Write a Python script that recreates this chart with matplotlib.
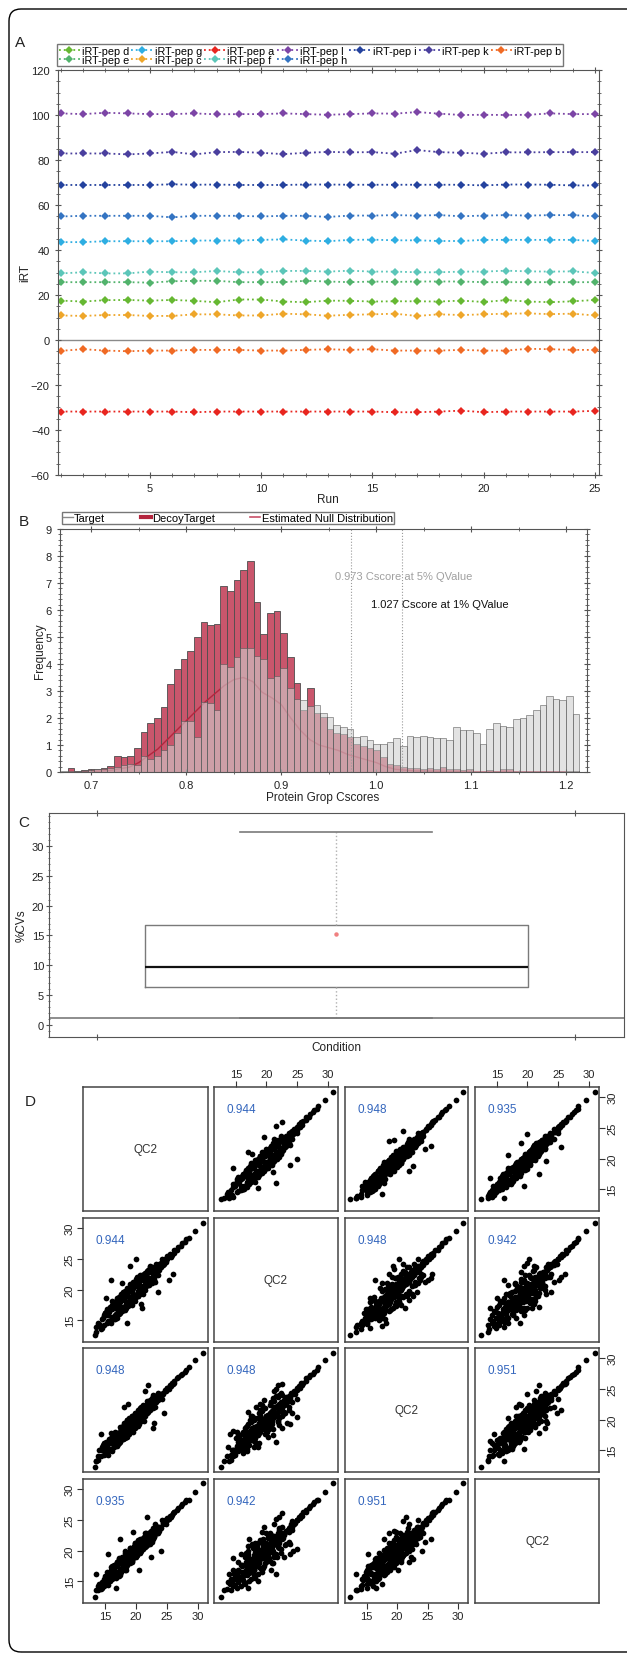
import numpy as np
import matplotlib
matplotlib.use("Agg")
import matplotlib.pyplot as plt
from matplotlib.patches import FancyBboxPatch
from matplotlib.lines import Line2D
from matplotlib.ticker import MultipleLocator

plt.rcParams['font.family'] = ['Liberation Sans', 'DejaVu Sans']

# ---------------- Panel A data ----------------
runs = list(range(1, 26))
pep_d = [17.5,17.1,17.7,17.8,17.5,17.8,17.4,16.8,18.0,18.0,17.1,16.8,17.5,17.4,17.1,17.2,17.2,17.1,17.5,16.9,17.7,17.1,16.8,17.2,17.8]
pep_e = [25.7,25.7,25.7,25.7,25.5,26.1,26.3,26.3,25.7,25.7,25.7,26.3,26.0,25.7,26.0,25.8,26.0,26.0,26.0,25.7,25.7,25.7,25.7,25.7,25.7]
pep_g = [43.5,43.5,43.9,43.9,43.9,43.9,44.2,44.2,44.2,44.5,44.7,44.2,43.9,44.5,44.6,44.3,44.3,44.0,44.0,44.5,44.5,44.5,44.5,44.5,44.0]
pep_c = [10.9,10.7,11.1,11.1,10.7,10.7,11.4,11.4,10.9,10.9,11.7,11.4,10.8,11.2,11.4,11.7,10.7,11.4,11.1,11.4,11.7,11.8,11.5,11.7,10.9]
pep_a = [-31.8,-31.8,-31.8,-31.8,-31.8,-31.8,-32.1,-31.8,-31.8,-31.8,-31.8,-31.8,-31.8,-31.8,-31.8,-32.1,-32.1,-31.8,-31.4,-32.1,-31.8,-31.8,-31.8,-31.8,-31.5]
pep_f = [29.6,30.1,29.6,29.6,30.4,30.1,30.1,30.7,30.1,30.1,30.7,30.7,30.4,30.8,30.4,30.4,30.1,30.1,30.4,30.4,30.8,30.5,30.4,30.5,29.8]
pep_l = [100.7,100.4,101.0,100.7,100.4,100.4,100.7,100.3,100.4,100.4,100.7,100.4,100.1,100.4,100.7,100.6,101.3,100.6,100.0,100.1,100.0,100.1,100.7,100.4,100.4]
pep_h = [54.9,55.2,55.2,55.2,55.2,54.5,55.2,55.2,55.2,54.9,55.2,55.2,54.7,55.3,55.3,55.5,55.3,55.5,55.0,55.3,55.5,55.3,55.5,55.5,55.0]
pep_i = [68.9,68.9,68.9,68.9,68.9,69.2,69.0,69.1,68.9,68.9,68.9,69.1,69.1,69.0,69.0,69.0,69.0,69.0,69.0,68.7,69.1,69.1,69.0,68.7,68.7]
pep_k = [82.9,82.9,82.9,82.5,82.9,83.6,82.5,83.5,83.6,83.2,82.6,83.2,83.6,83.4,83.5,82.8,84.4,83.5,83.2,82.8,83.4,83.4,83.5,83.5,83.5]
pep_b = [-4.8,-4.1,-4.7,-5.0,-4.7,-4.7,-4.4,-4.4,-4.4,-4.7,-4.7,-4.4,-4.1,-4.4,-4.1,-4.7,-4.7,-4.7,-4.4,-4.7,-4.7,-3.9,-4.1,-4.4,-4.4]
pep_labels = ['iRT-pep d', 'iRT-pep e', 'iRT-pep g', 'iRT-pep c', 'iRT-pep a', 'iRT-pep f',
              'iRT-pep l', 'iRT-pep h', 'iRT-pep i', 'iRT-pep k', 'iRT-pep b']
pep_values = [pep_d, pep_e, pep_g, pep_c, pep_a, pep_f, pep_l, pep_h, pep_i, pep_k, pep_b]
pep_colors = ['#66b832', '#52b36c', '#2eaee2', '#eea62a', '#e8251f', '#5cc6b9',
              '#7c45a6', '#3474c2', '#24429e', '#4a3f9e', '#f06a24']

# ---------------- Panel B data ----------------
bin_start, bin_width, n_bins = 0.668, 0.007, 78
decoy_freq = [0.0, 0.15, 0.03, 0.06, 0.10, 0.12, 0.15, 0.22, 0.60, 0.57,
              0.60, 0.90, 1.50, 1.80, 2.00, 2.40, 3.25, 3.80, 4.20, 4.50,
              5.00, 5.55, 5.45, 5.50, 6.90, 6.70, 7.10, 7.50, 7.80, 6.30,
              5.10, 5.90, 5.95, 5.15, 4.25, 3.30, 2.30, 3.10, 2.20, 2.05,
              1.60, 1.45, 1.40, 1.30, 1.05, 0.95, 0.90, 0.80, 0.55, 0.30,
              0.25, 0.20, 0.15, 0.15, 0.10, 0.15, 0.10, 0.20, 0.12, 0.10,
              0.08, 0.10, 0.05, 0.05, 0.08, 0.05, 0.10, 0.12, 0.05, 0.05,
              0.05, 0.03, 0.03, 0.03, 0.03, 0.03, 0.03, 0.03]
target_freq = [0.03, 0.05, 0.05, 0.05, 0.08, 0.10, 0.10, 0.15, 0.20, 0.25,
               0.30, 0.25, 0.60, 0.50, 0.60, 0.80, 1.00, 1.45, 1.90, 1.90,
               1.30, 2.60, 2.55, 2.30, 4.00, 3.90, 4.25, 4.60, 4.60, 4.30,
               4.20, 3.50, 3.55, 3.85, 3.10, 2.70, 2.65, 2.45, 2.50, 2.20,
               2.05, 1.75, 1.65, 1.60, 1.30, 1.35, 1.20, 1.05, 1.05, 1.10,
               1.25, 0.95, 1.35, 1.30, 1.35, 1.30, 1.25, 1.25, 1.20, 1.65,
               1.55, 1.55, 1.45, 1.05, 1.60, 1.80, 1.70, 1.65, 1.95, 2.00,
               2.10, 2.30, 2.50, 2.80, 2.70, 2.65, 2.80, 2.15]
null_x = [0.70, 0.72, 0.74, 0.75, 0.76, 0.77, 0.78, 0.79, 0.80, 0.81, 0.82, 0.83, 0.84, 0.85,
          0.86, 0.87, 0.88, 0.89, 0.90, 0.91, 0.92, 0.93, 0.94, 0.95, 0.96, 0.97, 0.98, 0.99,
          1.00, 1.01, 1.02, 1.04, 1.08, 1.12, 1.20]
null_y = [0.02, 0.06, 0.18, 0.35, 0.60, 0.85, 1.20, 1.55, 1.90, 2.25, 2.60, 2.90, 3.20, 3.42,
          3.50, 3.35, 2.95, 2.75, 2.50, 2.00, 1.55, 1.20, 1.00, 0.90, 0.80, 0.65, 0.55, 0.45,
          0.35, 0.20, 0.10, 0.04, 0.02, 0.01, 0.0]
cut_5pct, cut_1pct = 0.973, 1.027

# ---------------- Panel C data ----------------
cv_q1, cv_median, cv_q3 = 6.3, 9.7, 16.7
cv_whislo, cv_whishi, cv_mean = 1.1, 32.3, 15.2

# ---------------- Panel D data ----------------
qc_names = ['QC2', 'QC2', 'QC2', 'QC2']
corr = [[None, 0.944, 0.948, 0.935],
        [0.944, None, 0.948, 0.942],
        [0.948, 0.948, None, 0.951],
        [0.935, 0.942, 0.951, None]]
qc1 = [13.4,13.6,13.9,14.3,13.8,14.0,14.9,15.5,14.5,15.3,
       14.7,15.8,15.0,16.2,15.1,16.4,15.5,16.8,15.6,16.5,
       17.2,15.9,16.2,17.4,16.3,17.0,16.4,17.8,16.7,17.5,
       16.9,18.2,17.1,17.9,18.4,17.3,18.6,17.6,18.5,17.8,
       18.9,18.0,19.2,18.2,19.4,18.6,19.3,18.7,19.8,18.9,
       19.6,19.1,20.1,19.4,20.3,19.5,20.4,19.8,20.6,20.0,
       20.8,20.2,21.0,20.4,21.2,20.5,21.4,20.7,21.6,20.9,
       21.8,21.1,22.0,21.3,22.2,21.5,22.4,21.7,22.7,22.1,
       23.0,22.5,23.4,22.9,23.7,23.4,24.1,23.8,24.4,24.3,
       24.8,24.7,25.1,25.1,25.6,25.5,25.9,26.1,26.2,26.7,
       26.8,27.3,27.5,27.9,28.1,28.5,29.6,30.8,
       16.0,21.0,23.5,18.0,22.8,20.5,15.5,24.0,19.0,17.5,25.3,14.3,20.0,22.0,
       18.5,16.8,21.8,23.0,19.6,15.2,24.5,17.8,26.0,13.6,21.5,20.8,18.8,22.5,
       17.0,18.2,19.5,20.4,16.5,21.3,22.1,18.8,15.9,19.9,17.6,20.9,23.0,16.2,18.4,
       21.7,19.2,17.9,20.2,22.6,15.3,18.9,20.7,17.3,21.0,19.7,16.8,23.4,18.0,20.0,
       15.8,16.4,17.1,17.7,18.3,18.7,19.4,19.9,20.3,20.8,21.4,21.9,22.3,22.9,16.1,
       17.4,18.1,19.0,19.6,20.6,21.2,15.0,14.6,23.6,24.2,16.9,17.9,18.6,20.1,21.6,
       19.3,18.0,20.9,22.7,16.6,17.8,19.8,21.1,15.6,23.2,18.4,20.5,22.0,17.5,19.1,
       21.8,16.3,18.9,20.4,22.4,
       16.2,17.0,18.5,19.3,20.2,21.1,15.4,16.7,17.6,18.2,19.0,19.8,20.7,21.5,22.2,
       23.1,14.8,15.9,17.3,18.8,19.6,20.4,21.8,22.6,16.0,17.9,18.3,19.5,20.0,21.3,
       22.8,15.1,16.9,18.0,19.1,20.6,21.9,17.2,18.6,20.3]
qc2 = [12.6,13.0,14.2,13.6,14.6,14.4,14.2,14.9,15.2,14.6,
       15.4,14.8,16.1,15.4,15.9,15.2,16.6,15.7,16.3,17.1,
       16.0,16.8,15.6,16.9,17.5,16.2,17.3,16.6,17.9,16.8,
       17.6,17.0,18.3,17.2,17.5,18.1,17.4,18.7,17.7,18.9,
       18.1,18.8,18.3,19.3,18.5,19.1,18.4,19.6,18.9,19.7,
       19.0,20.0,19.3,19.9,19.5,20.2,19.7,20.5,19.9,20.7,
       20.1,20.9,20.3,21.1,20.6,21.3,20.8,21.5,20.9,21.7,
       21.1,21.9,21.3,22.1,21.5,22.3,21.7,22.5,22.0,22.9,
       22.3,23.2,22.8,23.5,23.2,23.9,23.6,24.2,24.0,24.6,
       24.5,25.0,24.9,25.4,25.3,25.8,25.7,26.0,26.4,26.5,
       27.0,27.1,27.6,27.7,28.2,28.4,29.5,30.9,
       21.6,17.0,19.6,18.3,22.5,20.8,15.8,24.3,23.8,17.2,21.5,14.0,25.0,21.8,
       14.6,17.0,22.1,23.3,19.2,18.6,24.2,21.0,22.6,13.9,21.2,17.6,19.0,22.8,
       18.6,16.8,21.0,19.0,17.9,22.6,20.8,20.1,15.0,18.6,19.1,21.9,21.8,17.5,17.0,
       20.5,20.6,16.7,21.5,23.7,16.5,18.1,19.4,18.2,22.3,18.5,16.0,22.6,19.4,20.9,
       17.2,15.3,18.4,16.5,19.8,17.4,20.7,18.7,21.8,19.6,22.7,20.7,23.6,21.5,16.9,
       16.2,19.2,17.8,20.4,19.3,22.1,16.1,13.8,22.4,25.0,18.0,17.1,18.0,21.2,20.8,
       19.9,16.9,21.6,22.0,15.8,18.9,19.0,20.2,14.7,24.1,17.9,20.0,23.1,17.9,18.3,
       21.3,17.4,20.0,19.5,21.9,
       18.1,15.4,20.3,17.5,22.0,19.2,16.8,15.2,19.3,16.6,20.9,18.2,22.4,19.9,23.9,
       21.3,15.9,14.6,18.8,17.3,21.2,18.9,23.0,21.1,17.0,19.6,17.0,18.6,21.7,20.3,
       22.0,16.4,16.0,18.8,19.9,19.8,22.8,17.9,19.1,20.6]
qc3 = [12.3,13.3,13.4,14.1,14.0,15.0,14.3,14.2,15.0,14.4,
       15.9,15.1,15.3,14.8,16.3,15.7,15.4,16.2,16.9,15.8,
       16.5,16.1,17.0,16.3,16.6,17.6,16.8,17.2,16.5,18.0,
       17.1,17.8,17.4,16.9,18.1,17.6,18.3,17.8,18.6,18.0,
       17.7,19.1,18.6,18.4,19.0,19.5,18.8,19.2,18.6,19.5,
       19.9,19.3,19.6,20.2,19.4,19.9,20.3,19.7,20.2,20.5,
       19.9,20.6,20.8,20.3,21.0,20.7,21.2,20.9,21.4,21.0,
       21.6,21.3,21.8,21.5,22.0,21.7,22.2,21.9,22.5,22.3,
       22.8,22.7,23.2,23.0,23.6,23.5,23.9,24.1,24.3,24.2,
       24.7,24.8,25.2,25.1,25.5,25.6,25.9,25.9,26.3,26.7,
       26.9,27.2,27.4,27.8,28.0,28.5,29.7,30.9,
       16.4,21.3,23.2,22.0,18.6,20.2,15.2,24.1,19.3,17.8,25.0,17.6,20.4,25.6,
       18.2,16.5,21.5,19.5,19.8,15.5,21.0,17.5,25.8,13.3,24.6,20.5,22.6,22.3,
       17.4,19.0,18.4,21.6,15.6,20.6,22.9,18.0,17.0,20.3,18.5,19.8,23.6,16.9,17.9,
       22.4,20.0,18.8,21.1,22.0,15.9,20.3,20.1,16.4,21.9,19.0,17.7,24.0,18.7,19.2,
       16.6,17.5,16.0,18.6,17.6,19.6,18.8,21.0,19.6,21.9,20.9,22.8,21.6,23.8,15.2,
       17.9,18.9,19.9,18.5,21.4,20.2,14.5,15.6,24.3,23.4,17.8,16.8,19.9,20.9,21.0,
       20.6,17.3,22.0,21.8,16.2,18.3,20.8,20.7,15.0,22.8,18.1,19.3,22.6,18.8,18.4,
       23.0,16.8,19.1,20.0,22.2,
       17.0,16.3,17.2,20.6,19.1,22.4,14.9,18.0,18.4,17.0,19.8,18.7,21.5,20.5,23.1,
       22.0,16.1,15.1,16.2,19.9,20.4,19.5,21.0,23.5,17.8,18.9,19.3,17.9,20.8,19.8,
       24.0,15.8,15.7,19.5,18.3,21.9,21.3,16.6,20.0,19.0]
qc4 = [12.4,13.5,13.6,13.8,14.2,14.6,15.3,14.4,13.9,15.2,
       14.9,15.6,15.2,15.9,15.3,16.1,16.3,15.5,16.0,16.4,
       15.9,17.3,16.7,16.0,17.1,16.5,17.7,16.8,17.4,17.0,
       18.1,16.9,17.8,18.2,17.3,18.5,17.7,18.4,17.9,18.7,
       18.5,18.2,19.0,18.9,18.3,18.7,19.6,18.8,19.4,19.0,
       19.5,19.8,19.2,19.7,20.1,19.6,20.0,20.3,19.8,20.4,
       20.6,20.1,20.7,20.9,20.4,21.1,20.6,21.3,20.8,21.5,
       21.0,21.7,21.2,21.9,21.4,22.1,21.6,22.3,21.9,22.7,
       22.4,23.1,22.9,23.4,23.1,23.8,23.7,23.9,24.3,24.5,
       24.4,24.9,25.0,25.3,25.4,25.7,25.8,26.2,26.3,26.6,
       27.0,27.3,27.5,27.9,28.2,28.3,29.6,31.0,
       16.1,20.8,23.8,18.2,22.9,16.8,19.4,20.0,19.5,21.9,25.1,14.5,20.2,21.9,
       18.8,13.9,25.4,23.1,23.0,15.0,24.8,17.9,26.1,16.2,21.4,21.0,18.6,19.0,
       16.2,17.6,19.9,20.0,17.2,21.9,21.5,19.6,16.4,21.2,17.0,20.6,22.4,15.4,19.5,
       22.8,18.3,18.1,19.4,21.4,14.6,19.7,21.8,18.6,20.2,20.8,17.4,23.9,17.2,20.6,
       15.1,16.9,17.8,19.0,18.0,17.9,20.1,19.3,20.9,20.0,22.0,21.2,23.0,22.2,17.4,
       16.3,17.0,20.4,18.7,21.6,20.4,15.9,14.9,22.9,24.9,16.0,18.8,19.3,19.2,22.6,
       18.4,17.6,21.4,23.6,17.6,18.7,19.1,22.1,16.2,23.3,16.8,21.3,21.0,16.9,19.9,
       22.3,16.7,18.2,20.9,22.9,
       15.6,18.2,19.1,18.2,21.3,20.3,16.5,16.1,16.5,19.6,17.9,21.3,19.6,22.8,21.0,
       24.4,14.2,16.8,17.9,18.4,19.0,21.7,20.9,22.1,16.6,17.4,20.0,20.1,18.9,22.2,
       23.3,14.8,17.6,17.3,20.4,20.5,22.5,18.7,19.5,19.7]
qc_samples = [qc1, qc2, qc3, qc4]
d_ticks = [15, 20, 25, 30]

# ---------------- Figure ----------------
W, H = 627, 1656
fig = plt.figure(figsize=(W / 100, H / 100), dpi=100)


def add_ax(l, t, r, b):
    return fig.add_axes([l / W, 1 - b / H, (r - l) / W, (b - t) / H])


def ftext(x, y, s, **kw):
    return fig.text(x / W, 1 - y / H, s, **kw)


def style_spines(ax, color='#555555', lw=0.8):
    for sp in ax.spines.values():
        sp.set_color(color)
        sp.set_linewidth(lw)


border = FancyBboxPatch((0.09, 0.03), 12.0, 16.43,
                        boxstyle="round,pad=0,rounding_size=0.12",
                        transform=fig.dpi_scale_trans, fill=False,
                        ec='black', lw=1.0, clip_on=False)
fig.patches.append(border)

TXT = '#222222'

# ---------------- Panel A ----------------
axA = add_ax(58, 71, 599, 476)
handles = []
for lab, vals, col in zip(pep_labels, pep_values, pep_colors):
    h, = axA.plot(runs, vals, linestyle=':', lw=1.3, color=col, marker='D',
                  markersize=3.6, markeredgewidth=0, label=lab)
    handles.append(h)
axA.axhline(0, color='#8a8a8a', lw=1.0, zorder=1)
axA.set_xlim(0.87, 25.18)
axA.set_ylim(-60, 120)
axA.xaxis.set_major_locator(MultipleLocator(5))
axA.xaxis.set_minor_locator(MultipleLocator(1))
axA.yaxis.set_major_locator(MultipleLocator(20))
axA.yaxis.set_minor_locator(MultipleLocator(5))
axA.tick_params(which='both', direction='inout', top=True, right=True,
                labelsize=8, colors='#555555', labelcolor=TXT)
axA.tick_params(which='major', length=5)
axA.tick_params(which='minor', length=3)
style_spines(axA)
axA.legend(handles=handles, ncol=7, loc='upper left',
           bbox_to_anchor=(57 / W, 1 - 45 / H), bbox_transform=fig.transFigure,
           fontsize=7.8, frameon=True, fancybox=False, edgecolor='#555555',
           handlelength=2.0, handletextpad=0.15, columnspacing=0.2,
           labelspacing=-0.1, borderpad=0.15, borderaxespad=0)
ftext(328, 500, 'Run', ha='center', va='center', fontsize=8.5, color=TXT)
ftext(25, 273, 'iRT', ha='center', va='center', rotation=90, fontsize=8.5, color=TXT)
ftext(20, 43, 'A', ha='center', va='center', fontsize=11, color=TXT)

# ---------------- Panel B ----------------
axB = add_ax(60, 530, 587, 773)
edges = bin_start + bin_width * np.arange(n_bins)
axB.bar(edges, decoy_freq, width=bin_width, align='edge', color='#c9566c',
        edgecolor='#4d4d4d', linewidth=0.6, zorder=1)
axB.plot(null_x, null_y, color='#b4253e', lw=1.0, zorder=1.5)
axB.bar(edges, target_freq, width=bin_width, align='edge', color='#d0d0d0',
        alpha=0.6, edgecolor='#4d4d4d', linewidth=0.6, zorder=2)
for cut in (cut_5pct, cut_1pct):
    axB.axvline(cut, color='#9a9a9a', lw=0.8, ls=':', zorder=3)
axB.text(0.9565, 7.26, '0.973 Cscore at 5% QValue', color='#a0a0a0', fontsize=8,
         ha='left', va='center', zorder=4)
axB.text(0.994, 6.22, '1.027 Cscore at 1% QValue', color='#111111', fontsize=8,
         ha='left', va='center', zorder=4)
axB.set_xlim(0.667, 1.222)
axB.set_ylim(0, 9)
axB.xaxis.set_minor_locator(MultipleLocator(0.05))
axB.yaxis.set_major_locator(MultipleLocator(1))
axB.yaxis.set_minor_locator(MultipleLocator(0.2))
axB.set_xticks([0.7, 0.8, 0.9, 1.0, 1.1, 1.2])
axB.set_xticklabels(['0.7', '0.8', '0.9', '1.0', '1.1', '1.2'])
axB.tick_params(which='both', direction='inout', top=True, right=True,
                labelsize=8, colors='#555555', labelcolor=TXT)
axB.tick_params(which='major', length=5)
axB.tick_params(which='minor', length=2.5)
style_spines(axB)
legB_handles = [Line2D([], [], color='#8a8a8a', lw=1.0),
                Line2D([], [], color='#b4253e', lw=3.0),
                Line2D([], [], color='#c85068', lw=1.2)]
axB.legend(legB_handles, ['Target', 'DecoyTarget', 'Estimated Null Distribution'],
           ncol=3, loc='upper left', bbox_to_anchor=(62 / W, 1 - 513 / H),
           bbox_transform=fig.transFigure, fontsize=8, frameon=True, fancybox=False,
           edgecolor='#555555', handlelength=0.9, handletextpad=0.1,
           columnspacing=3.2, borderpad=0.1, borderaxespad=0)
ftext(323, 798, 'Protein Grop Cscores', ha='center', va='center', fontsize=8.5, color=TXT)
ftext(40, 651, 'Frequency', ha='center', va='center', rotation=90, fontsize=8.5, color=TXT)
ftext(24, 522, 'B', ha='center', va='center', fontsize=11, color=TXT)

# ---------------- Panel C ----------------
axC = add_ax(49, 814, 624, 1038)
stats = [dict(med=cv_median, q1=cv_q1, q3=cv_q3, whislo=cv_whislo,
              whishi=cv_whishi, mean=cv_mean, fliers=[])]
axC.bxp(stats, positions=[0.4995], widths=0.666, capwidths=0.334, showmeans=True,
        boxprops=dict(color='#7a7a7a', lw=1.0),
        medianprops=dict(color='#111111', lw=1.6),
        whiskerprops=dict(color='#b0b0b0', lw=1.0, ls=':'),
        capprops=dict(color='#7a7a7a', lw=1.2),
        meanprops=dict(marker='o', markersize=2.2, markerfacecolor='#f08080',
                       markeredgecolor='#f08080'))
axC.axhline(cv_whislo, color='#7a7a7a', lw=1.2)
axC.set_xlim(0, 1)
axC.set_ylim(-2.0, 35.5)
axC.set_xticks([0.0835, 0.915])
axC.set_xticklabels(['', ''])
axC.set_yticks([0, 5, 10, 15, 20, 25, 30])
axC.yaxis.set_minor_locator(MultipleLocator(1))
axC.tick_params(which='both', direction='inout', top=True, right=False,
                labelsize=8, colors='#555555', labelcolor=TXT, pad=1.5)
axC.tick_params(which='major', length=4)
axC.tick_params(which='minor', length=2)
style_spines(axC)
ftext(336, 1048, 'Condition', ha='center', va='center', fontsize=8.5, color=TXT)
ftext(22, 926, '%CVs', ha='center', va='center', rotation=90, fontsize=8.5, color=TXT)
ftext(24, 823, 'C', ha='center', va='center', fontsize=11, color=TXT)

# ---------------- Panel D ----------------
col_px = [(83, 208), (214, 338), (345, 468), (475, 599)]
row_px = [(1088, 1212), (1219, 1343), (1349, 1473), (1480, 1604)]
lo, hi = 11.45, 31.65
for r in range(4):
    for c in range(4):
        ax = add_ax(col_px[c][0], row_px[r][0], col_px[c][1], row_px[r][1])
        ax.set_xlim(lo, hi)
        ax.set_ylim(lo, hi)
        ax.set_xticks(d_ticks)
        ax.set_yticks(d_ticks)
        ax.tick_params(which='both', bottom=False, top=False, left=False, right=False,
                       labelbottom=False, labeltop=False, labelleft=False,
                       labelright=False, direction='out', length=4,
                       labelsize=8, colors='#333333', labelcolor=TXT, pad=2)
        for sp in ax.spines.values():
            sp.set_color('#444444')
            sp.set_linewidth(1.1)
        if r == 0 and c in (1, 3):
            ax.tick_params(top=True, labeltop=True)
        if r == 3 and c in (0, 2):
            ax.tick_params(bottom=True, labelbottom=True)
        if c == 0 and r in (1, 3):
            ax.tick_params(axis='y', left=True, labelleft=True, labelrotation=90)
            for t in ax.get_yticklabels():
                t.set_va('center')
        if c == 3 and r in (0, 2):
            ax.tick_params(axis='y', right=True, labelright=True, labelrotation=90)
            for t in ax.get_yticklabels():
                t.set_va('center')
        if r == c:
            ax.text(0.5, 0.5, qc_names[r], transform=ax.transAxes, ha='center',
                    va='center', fontsize=8.5, color='#333333')
        else:
            ax.scatter(qc_samples[c], qc_samples[r], s=17, c='black', linewidths=0)
            ax.text(0.1, 0.82, f'{corr[r][c]:.3f}', transform=ax.transAxes,
                    ha='left', va='center', fontsize=8.5, color='#3466bd', zorder=5)
ftext(30, 1102, 'D', ha='center', va='center', fontsize=11, color=TXT)

fig.savefig('out.png', dpi=100)
